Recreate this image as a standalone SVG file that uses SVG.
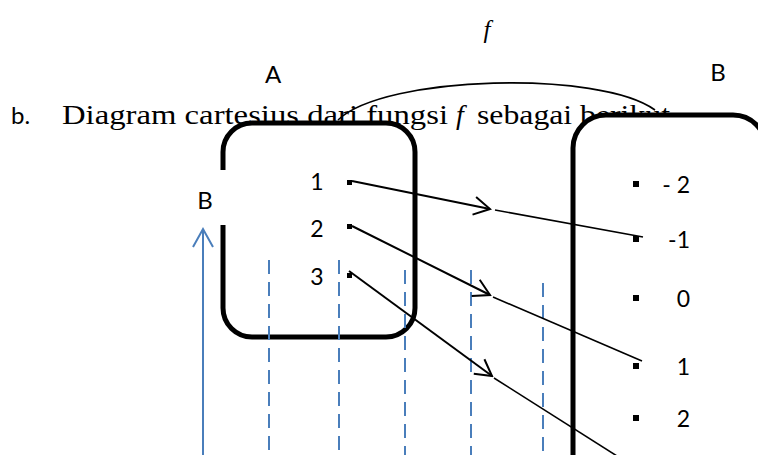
<svg xmlns="http://www.w3.org/2000/svg" width="758" height="455" viewBox="0 0 758 455">
<style>
.lbl{font-family:Lato,"Liberation Sans",Arial,sans-serif;font-size:24px;fill:#000}
.num{font-family:Lato,"Liberation Sans",Arial,sans-serif;font-size:23px;fill:#000}
.serif{font-family:"Liberation Serif","Times New Roman",serif;font-size:28px;fill:#000}
.it{font-style:italic}
.box{fill:#fff;stroke:#000;stroke-width:5}
.dash{stroke:#4a7ebb;stroke-width:2;stroke-dasharray:14 8;fill:none}
.blue{stroke:#4a7ebb;stroke-width:2;fill:none}
.arr{stroke:#000;stroke-width:2;fill:none}
.thin{stroke:#000;stroke-width:1.6;fill:none}
</style>
<defs>
<marker id="head" viewBox="-20 -12 22 24" markerWidth="22" markerHeight="24" refX="0" refY="0" orient="auto" markerUnits="userSpaceOnUse">
<path d="M-16,-9 L0,0 L-16,9" fill="none" stroke="#000" stroke-width="2"/>
</marker>
</defs>
<rect width="758" height="455" fill="#fff"/>
<g id="caption">
<text class="lbl" x="11" y="124">b.</text>
<text class="serif" x="62" y="124" textLength="386" lengthAdjust="spacingAndGlyphs">Diagram cartesius dari fungsi</text>
<text class="serif it" x="456" y="124">f</text>
<text class="serif" x="477" y="124" textLength="193" lengthAdjust="spacingAndGlyphs">sebagai berikut</text>
</g>
<g id="setA">
<rect class="box" x="223" y="123" width="192" height="214" rx="29"/>
</g>
<g id="setB">
<rect class="box" x="573" y="115" width="193" height="400" rx="33"/>
</g>
<g id="labels">
<text class="serif it" x="487" y="38" style="font-size:25px" text-anchor="middle">f</text>
<text class="lbl" x="273" y="83" text-anchor="middle">A</text>
<text class="lbl" x="718" y="81" text-anchor="middle">B</text>
<rect x="188" y="170" width="40" height="55" fill="#fff"/>
<text class="lbl" x="205" y="209" text-anchor="middle">B</text>
</g>
<g id="axes">
<line class="blue" x1="203" y1="229" x2="203" y2="455"/>
<path class="blue" d="M193,247 L203,229 L213,247"/>
<line class="dash" x1="269" y1="260" x2="269" y2="455"/>
<line class="dash" x1="339" y1="260" x2="339" y2="455"/>
<line class="dash" x1="405" y1="270" x2="405" y2="455"/>
<line class="dash" x1="471" y1="270" x2="471" y2="455"/>
<line class="dash" x1="543" y1="283" x2="543" y2="455"/>
</g>
<g id="itemsA">
<text class="num" x="317" y="190" text-anchor="middle">1</text>
<text class="num" x="317" y="237" text-anchor="middle">2</text>
<text class="num" x="317" y="285" text-anchor="middle">3</text>
<rect x="347" y="180" width="5" height="5"/>
<rect x="347" y="224" width="5" height="5"/>
<rect x="347" y="273" width="5" height="5"/>
</g>
<g id="itemsB">
<rect x="633" y="181" width="6" height="6"/>
<rect x="633" y="236" width="6" height="6"/>
<rect x="633" y="295" width="6" height="6"/>
<rect x="633" y="363" width="6" height="6"/>
<rect x="633" y="415" width="6" height="6"/>
<text class="num" x="690" y="193" text-anchor="end">- 2</text>
<text class="num" x="690" y="248" text-anchor="end">-1</text>
<text class="num" x="690" y="307" text-anchor="end">0</text>
<text class="num" x="690" y="375" text-anchor="end">1</text>
<text class="num" x="690" y="427" text-anchor="end">2</text>
</g>
<g id="connectors">
<path class="thin" d="M338,120 C385,75 600,70 655,110"/>
<line class="arr" x1="352" y1="181" x2="490" y2="209" marker-end="url(#head)"/>
<line class="thin" x1="495" y1="210" x2="643" y2="237"/>
<line class="arr" x1="352" y1="226" x2="490" y2="295" marker-end="url(#head)"/>
<line class="thin" x1="493" y1="297" x2="642" y2="361"/>
<line class="arr" x1="349" y1="271" x2="492" y2="376" marker-end="url(#head)"/>
<line class="thin" x1="494" y1="378" x2="617" y2="456"/>
</g>
</svg>
